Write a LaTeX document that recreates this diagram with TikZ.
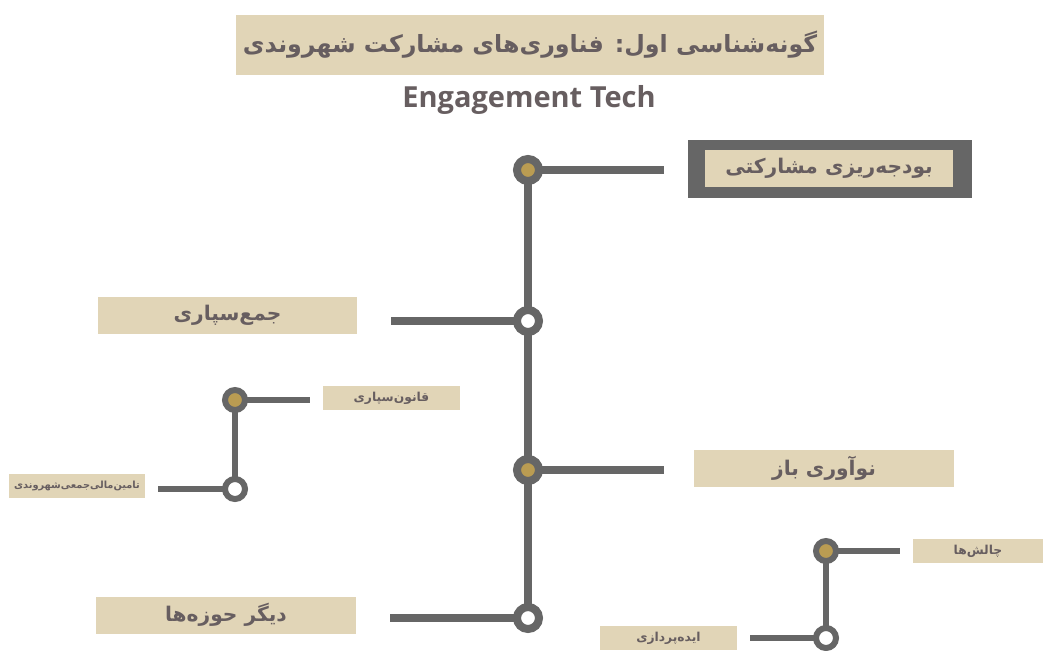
\documentclass[tikz,border=0pt]{standalone}
\usepackage{fontspec}
\usetikzlibrary{backgrounds}
\TeXXeTstate=1
\newfontfamily\arabicfont[Script=Arabic]{DejaVu Sans}
\newfontfamily\engfont{Open Sans}
\definecolor{linegray}{HTML}{666666}
\definecolor{boxbeige}{HTML}{E1D5B7}
\definecolor{dotgold}{HTML}{BA9C52}
\definecolor{textgray}{HTML}{675E60}
\tikzset{
  mainbox/.style={fill=boxbeige, minimum width=5.2cm, minimum height=0.74cm, inner sep=0pt,
    text=textgray, font=\arabicfont\bfseries\fontsize{11.5}{14}\selectfont},
  smallbox/.style={fill=boxbeige, minimum width=2.74cm, minimum height=0.48cm, inner sep=0pt,
    text=textgray, font=\arabicfont\bfseries\fontsize{7}{9}\selectfont},
  bigdot/.style={circle, draw=linegray, line width=0.16cm, minimum size=0.44cm, inner sep=0pt},
  smalldot/.style={circle, draw=linegray, line width=0.12cm, minimum size=0.4cm, inner sep=0pt},
  mainline/.style={draw=linegray, line width=0.16cm},
  smallline/.style={draw=linegray, line width=0.12cm}
}
\begin{document}
\begin{tikzpicture}[x=0.02cm, y=-0.02cm]
	\useasboundingbox (0,0) rectangle (1043,650);
	\node[fill=boxbeige, minimum width=11.76cm, minimum height=1.2cm, text=textgray,
		font=\arabicfont\bfseries\fontsize{13.5}{16}\selectfont] (title) at (530,45)
		{\beginR گونه‌شناسی اول: فناوری‌های مشارکت شهروندی\endR};
	\node[text=textgray, font=\engfont\bfseries\fontsize{16.5}{20}\selectfont] (sub) at (529,100) {Engagement Tech};
	\node[bigdot, fill=dotgold] (c1) at (528,170) {};
	\node[bigdot, fill=white] (c2) at (528,321) {};
	\node[bigdot, fill=dotgold] (c3) at (528,470) {};
	\node[bigdot, fill=white] (c4) at (528,618) {};
	\node[fill=linegray, minimum width=5.68cm, minimum height=1.16cm] (budgetframe) at (830,169) {};
	\node[mainbox, minimum width=4.96cm] (budget) at (829,168.5) {\beginR بودجه‌ریزی مشارکتی\endR};
	\node[mainbox] (crowd) at (227.5,315.5) {\beginR جمع‌سپاری\endR};
	\node[mainbox] (openinno) at (824,468.5) {\beginR نوآوری باز\endR};
	\node[mainbox] (other) at (226,615) {\beginR دیگر حوزه‌ها\endR};
	\node[smalldot, fill=dotgold] (s1) at (235,400) {};
	\node[smalldot, fill=white] (s2) at (235,489) {};
	\node[smallbox] (law) at (391.5,398) {\beginR قانون‌سپاری\endR};
	\node[smallbox, font=\arabicfont\bfseries\fontsize{5.6}{7}\selectfont] (fund) at (77,485.5) {\beginR تامین‌مالی‌جمعی‌شهروندی\endR};
	\node[smalldot, fill=dotgold] (t1) at (826,551) {};
	\node[smalldot, fill=white] (t2) at (826,638) {};
	\node[smallbox, minimum width=2.6cm] (challenge) at (978,551) {\beginR چالش‌ها\endR};
	\node[smallbox] (idea) at (668.5,638) {\beginR ایده‌پردازی\endR};
	\begin{scope}[on background layer]
		\fill[white] (0,0) rectangle (1043,650);
		\draw[mainline] (c1.center) -- (c4.center);
		\draw[mainline, shorten >=0.48cm] (c1.center) -- (budgetframe.west |- c1.center);
		\draw[mainline, shorten >=0.66cm] (c2.center) -- (crowd.east |- c2.center);
		\draw[mainline, shorten >=0.6cm] (c3.center) -- (openinno.west |- c3.center);
		\draw[mainline, shorten >=0.68cm] (c4.center) -- (other.east |- c4.center);
		\draw[smallline] (s1.center) -- (s2.center);
		\draw[smallline, shorten >=0.26cm] (s1.center) -- (law.west |- s1.center);
		\draw[smallline, shorten >=0.24cm] (s2.center) -- (fund.east |- s2.center);
		\draw[smallline] (t1.center) -- (t2.center);
		\draw[smallline, shorten >=0.26cm] (t1.center) -- (challenge.west |- t1.center);
		\draw[smallline, shorten >=0.26cm] (t2.center) -- (idea.east |- t2.center);
	\end{scope}
\end{tikzpicture}
\end{document}
